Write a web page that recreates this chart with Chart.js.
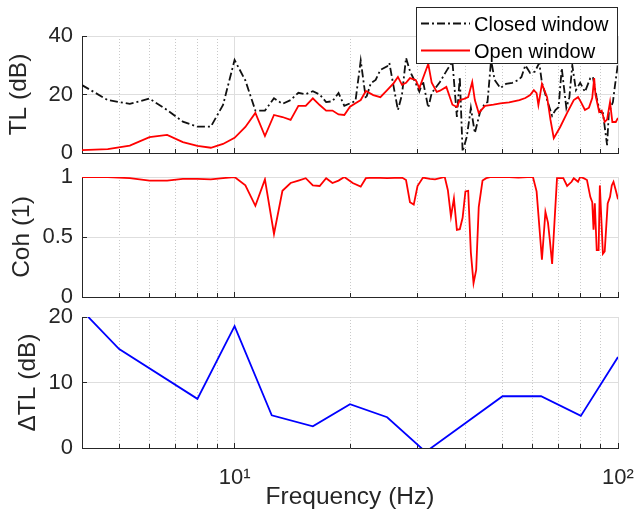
<!DOCTYPE html>
<html>
<head>
<meta charset="utf-8">
<script src="https://cdn.jsdelivr.net/npm/chart.js@4"></script>
<style>
  html, body { margin: 0; padding: 0; background: #ffffff; }
  #wrap { position: relative; width: 636px; height: 515px; }
  #wrap canvas { position: absolute; left: 0; top: 0; width: 636px; height: 515px; }
</style>
</head>
<body>
<div id="wrap">
  <canvas id="tlChart" width="636" height="515"></canvas>
  <canvas id="cohChart" width="636" height="515"></canvas>
  <canvas id="dtlChart" width="636" height="515"></canvas>
</div>
<script>
// Transmission loss, closed window (Hz, dB)
const closedFreq = [4.0, 4.67, 5.33, 6.0, 6.67, 7.33, 8.0, 8.67, 9.33, 10.0, 10.67, 11.33, 12.0, 12.67, 13.33, 14.0,
  14.67, 15.33, 16.0, 16.67, 17.33, 18.0, 18.67, 19.33, 20.67, 21.33, 22.0, 22.67, 23.33, 24.0, 25.0, 25.33,
  26.0, 26.67, 27.33, 28.0, 28.67, 29.67, 30.33, 31.0, 32.0, 32.67, 34.33, 35.67, 37.0, 38.0, 38.67, 39.33,
  40.33, 41.33, 42.33, 43.67, 45.0, 45.67, 46.67, 47.67, 49.33, 51.0, 53.0, 55.0, 56.0, 57.33, 59.0, 60.67,
  62.33, 63.33, 65.33, 67.33, 68.67, 70.0, 71.33, 73.33, 74.67, 76.0, 77.67, 79.67, 82.0, 84.67, 86.0, 88.0,
  89.67, 91.33, 93.67, 94.67, 97.0, 98.0, 100.0];
const closedTL = [23.2, 18.1, 16.8, 18.6, 14.7, 10.7, 9.0, 9.0, 16.4, 31.8, 24.8, 14.5, 14.5, 18.7, 16.8, 18.1,
  20.6, 20.1, 21.1, 20.0, 17.4, 17.7, 20.5, 16.1, 17.8, 31.6, 18.5, 23.9, 25.0, 28.4, 29.6, 30.8,
  22.6, 14.7, 20.0, 32.5, 28.0, 23.9, 21.0, 24.6, 15.5, 20.5, 24.3, 28.0, 31.2, 12.3, 26.0, 0.5,
  5.5, 15.4, 6.8, 14.0, 17.0, 17.4, 31.8, 25.0, 22.2, 23.6, 24.0, 25.0, 26.0, 30.0, 27.4, 27.8,
  30.8, 24.0, 18.1, 12.7, 14.7, 15.7, 29.0, 15.4, 19.0, 30.0, 21.5, 24.0, 20.9, 25.6, 26.0, 18.8,
  14.0, 13.7, 2.7, 14.0, 17.4, 22.2, 30.8];

// Transmission loss, open window (Hz, dB)
const openFreq = [4.0, 4.67, 5.33, 6.0, 6.67, 7.33, 8.0, 8.67, 9.33, 10.0, 10.67, 11.33, 12.0, 12.67, 13.33, 14.0,
  14.67, 15.33, 16.0, 16.67, 17.33, 18.0, 18.67, 19.33, 20.0, 20.67, 21.33, 22.0, 23.0, 24.0, 25.0, 26.0,
  26.67, 27.33, 28.0, 28.67, 29.67, 30.33, 32.0, 32.67, 33.67, 34.33, 35.67, 37.0, 38.0, 38.67, 39.67, 40.67,
  41.67, 42.33, 43.33, 45.0, 47.33, 49.33, 52.0, 55.33, 57.33, 59.0, 60.33, 61.33, 62.0, 63.33, 65.33, 66.67,
  68.0, 70.67, 73.67, 76.67, 78.67, 80.0, 82.0, 84.0, 85.67, 86.67, 87.33, 89.33, 90.67, 92.33, 93.67, 95.33,
  96.67, 98.67, 100.0];
const openTL = [1.0, 1.3, 2.5, 5.4, 6.2, 3.7, 2.4, 1.8, 3.1, 5.2, 8.9, 13.7, 5.8, 13.0, 12.3, 11.3,
  16.1, 16.1, 18.7, 16.4, 14.5, 14.5, 13.2, 13.0, 15.8, 17.0, 18.1, 21.2, 19.8, 19.1, 21.5, 23.9,
  26.0, 23.3, 24.0, 25.6, 25.0, 22.2, 30.5, 24.0, 20.9, 21.3, 22.6, 16.5, 15.7, 18.1, 18.5, 19.1,
  24.3, 18.1, 13.7, 16.1, 16.5, 17.0, 17.3, 18.1, 18.8, 19.8, 21.5, 20.5, 16.4, 23.6, 19.1, 11.3,
  5.1, 8.9, 13.7, 18.1, 19.1, 17.5, 14.7, 15.5, 18.8, 25.6, 20.0, 14.0, 14.5, 10.6, 11.5, 17.4,
  10.6, 10.6, 12.0];

// Coherence (Hz, -)
const cohFreq = [4.0, 4.67, 5.33, 6.0, 6.67, 7.33, 8.0, 8.67, 9.33, 10.0, 10.67, 11.33, 12.0, 12.67, 13.33, 14.0,
  14.67, 15.33, 16.0, 16.67, 17.33, 18.0, 18.67, 19.33, 20.33, 21.33, 22.0, 23.0, 25.0, 27.33, 28.0, 28.67,
  29.33, 30.0, 31.0, 32.33, 33.33, 35.33, 36.0, 36.67, 37.33, 38.0, 38.67, 39.33, 40.0, 40.67, 41.33, 42.0,
  42.67, 43.33, 44.33, 45.33, 46.67, 52.0, 55.0, 58.0, 60.0, 61.33, 63.33, 64.67, 65.67, 66.33, 67.33, 68.33,
  69.33, 72.0, 73.67, 75.67, 76.67, 78.67, 79.67, 81.33, 83.0, 84.67, 85.67, 86.33, 87.0, 88.0, 89.0, 89.67,
  91.33, 92.33, 94.0, 95.33, 96.33, 97.33, 98.67, 100.0];
const cohVal = [1.0, 1.0, 0.99, 0.97, 0.97, 0.985, 0.985, 0.98, 0.99, 1.0, 0.93, 0.76, 0.98, 0.525, 0.885, 0.95,
  0.97, 0.99, 0.93, 0.925, 0.99, 0.95, 0.97, 1.0, 0.95, 0.92, 0.99, 0.995, 0.99, 0.995, 0.975, 0.79,
  0.77, 0.925, 0.995, 0.985, 0.98, 1.0, 0.89, 0.67, 0.82, 0.56, 0.565, 0.66, 0.88, 0.885, 0.37, 0.115,
  0.225, 0.75, 0.97, 0.99, 1.0, 1.0, 0.995, 1.0, 1.0, 0.88, 0.31, 0.71, 0.62, 0.49, 0.275, 0.64,
  0.99, 0.99, 0.925, 0.96, 0.99, 0.96, 1.0, 0.99, 0.975, 0.835, 0.79, 0.56, 0.78, 0.39, 0.39, 0.93,
  0.36, 0.38, 0.78, 0.835, 0.93, 0.96, 0.89, 0.815];

// Third-octave band difference (Hz, dB)
const bandFreq = [4, 5, 8, 10, 12.5, 16, 20, 25, 31.5, 50, 63, 80, 100];
const deltaTL = [21.0, 15.1, 7.5, 18.6, 5.0, 3.3, 6.7, 4.7, -0.6, 7.9, 7.9, 4.9, 13.9];

// Axis ticks
const freqMajorTicks = [10, 100];
const freqMinorTicks = [5, 6, 7, 8, 9, 20, 30, 40, 50, 60, 70, 80, 90];
const tlTicks = [0, 20, 40];
const cohTicks = [0, 0.5, 1];
const dtlTicks = [0, 10, 20];

const INK = '#262626';
const GRID_MAJOR = '#dedede';
const GRID_MINOR = '#c9c9c9';
const AXIS_W = 82;
const TICK_FONT = 22;
const TITLE_FONT = 24.5;

Chart.defaults.font.family = '"Liberation Sans", Arial, Helvetica, sans-serif';
Chart.defaults.color = INK;

function toPoints(xs, ys) {
  return xs.map((x, i) => ({ x: x, y: ys[i] }));
}

// Keep the plot box fixed: no extra room reserved for overhanging tick labels
function fixHeight(h) {
  return s => { s.height = h; s.paddingLeft = 0; s.paddingRight = 0; };
}

function freqScales(withLabels, axisHeight) {
  return {
    x: {
      type: 'logarithmic', position: 'bottom', min: 4, max: 100, weight: 1,
      afterBuildTicks: s => { s.ticks = freqMajorTicks.map(v => ({ value: v })); },
      afterFit: fixHeight(axisHeight),
      grid: { color: GRID_MAJOR, lineWidth: 1, tickLength: -5, tickColor: INK, tickWidth: 1 },
      border: { display: true, color: INK, width: 1 },
      ticks: {
        display: withLabels, autoSkip: false, maxRotation: 0, padding: 22,
        font: { size: TICK_FONT }, color: INK,
        callback: v => (v === 10 ? '10\u00B9' : v === 100 ? '10\u00B2' : '')
      },
      title: {
        display: withLabels, text: 'Frequency (Hz)', color: INK,
        font: { size: TITLE_FONT }, padding: { top: 0, bottom: 3 }
      }
    },
    xMinor: {
      type: 'logarithmic', position: 'bottom', min: 4, max: 100, weight: 0,
      afterBuildTicks: s => { s.ticks = freqMinorTicks.map(v => ({ value: v })); },
      afterFit: fixHeight(0),
      grid: { color: GRID_MINOR, lineWidth: 1, tickLength: -4, tickColor: INK, tickWidth: 1, borderDash: [1, 2] },
      border: { display: false, dash: [1, 2] },
      ticks: { display: false }
    }
  };
}

function valueScale(min, max, ticks, title, titlePad) {
  return {
    type: 'linear', position: 'left', min: min, max: max,
    afterBuildTicks: s => { s.ticks = ticks.map(v => ({ value: v })); },
    afterFit: s => { s.width = AXIS_W; s.paddingTop = 0; s.paddingBottom = 0; },
    grid: { color: GRID_MAJOR, lineWidth: 1, tickLength: -5, tickColor: INK, tickWidth: 1 },
    border: { display: true, color: INK, width: 1 },
    ticks: { padding: 14, font: { size: TICK_FONT }, color: INK, callback: v => String(v) },
    title: {
      display: true, text: title, color: INK,
      font: { size: TITLE_FONT }, padding: { top: titlePad, bottom: 0 }
    }
  };
}

// Boxed legend in the top-right corner of the TL panel
const tlLegend = {
  id: 'tlLegend',
  afterDraw(chart) {
    const ctx = chart.ctx;
    const area = chart.chartArea;
    const right = area.right, left = right - 202, top = area.top - 29, bottom = area.top + 28;
    ctx.save();
    ctx.fillStyle = '#ffffff';
    ctx.fillRect(left, top, right - left, bottom - top);
    ctx.strokeStyle = INK;
    ctx.lineWidth = 1;
    ctx.strokeRect(left + 0.5, top + 0.5, right - left - 1, bottom - top - 1);
    const items = chart.data.datasets.slice().sort((a, b) => a.legendRank - b.legendRank);
    items.forEach((ds, i) => {
      const y = top + 16.5 + i * 27;
      ctx.beginPath();
      ctx.setLineDash(ds.borderDash || []);
      ctx.strokeStyle = ds.borderColor;
      ctx.lineWidth = ds.borderWidth;
      ctx.moveTo(left + 5, y);
      ctx.lineTo(left + 54, y);
      ctx.stroke();
      ctx.setLineDash([]);
      ctx.fillStyle = '#000000';
      ctx.font = '20px "Liberation Sans", Arial, sans-serif';
      ctx.textAlign = 'left';
      ctx.textBaseline = 'middle';
      ctx.fillText(ds.label, left + 58, y + 1.5);
    });
    ctx.restore();
  }
};

const common = {
  responsive: false,
  animation: false,
  events: [],
  plugins: { legend: { display: false }, tooltip: { enabled: false } },
  elements: { point: { radius: 0 }, line: { tension: 0 } }
};

new Chart(document.getElementById('tlChart'), {
  type: 'line',
  data: {
    datasets: [
      { label: 'Closed window', legendRank: 0, order: 1, data: toPoints(closedFreq, closedTL),
        borderColor: '#111111', borderWidth: 1.8, borderDash: [8, 3, 2, 3], fill: false },
      { label: 'Open window', legendRank: 1, order: 0, data: toPoints(openFreq, openTL),
        borderColor: '#ff0000', borderWidth: 1.8, fill: false }
    ]
  },
  options: Object.assign({}, common, {
    layout: { padding: { top: 36, right: 18, bottom: 362, left: 0 } },
    scales: Object.assign(freqScales(false, 0), { y: valueScale(0, 40, tlTicks, 'TL (dB)', 5) })
  }),
  plugins: [tlLegend]
});

new Chart(document.getElementById('cohChart'), {
  type: 'line',
  data: {
    datasets: [
      { label: 'Coherence', data: toPoints(cohFreq, cohVal),
        borderColor: '#ff0000', borderWidth: 1.8, fill: false }
    ]
  },
  options: Object.assign({}, common, {
    layout: { padding: { top: 177, right: 18, bottom: 218, left: 0 } },
    scales: Object.assign(freqScales(false, 0), { y: valueScale(0, 1, cohTicks, 'Coh (1)', 8) })
  })
});

new Chart(document.getElementById('dtlChart'), {
  type: 'line',
  data: {
    datasets: [
      { label: '\u0394TL', data: toPoints(bandFreq, deltaTL),
        borderColor: '#0000ff', borderWidth: 1.8, fill: false }
    ]
  },
  options: Object.assign({}, common, {
    layout: { padding: { top: 317, right: 18, bottom: 0, left: 0 } },
    scales: Object.assign(freqScales(true, 67), { y: valueScale(0, 20, dtlTicks, '\u0394TL (dB)', 14) })
  })
});
</script>
</body>
</html>
